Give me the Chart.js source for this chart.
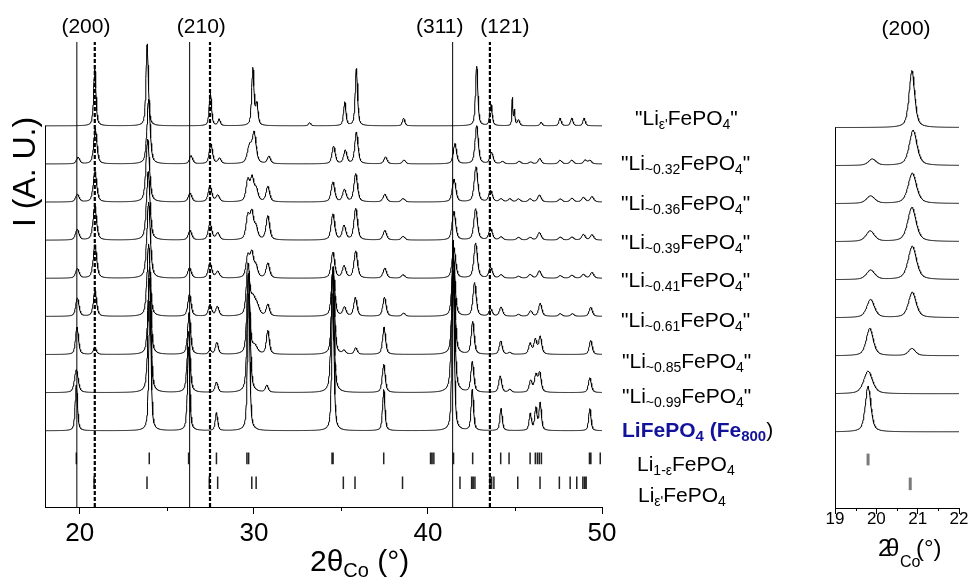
<!DOCTYPE html>
<html>
<head>
<meta charset="utf-8">
<script src="https://cdn.jsdelivr.net/npm/chart.js@4.4.1/dist/chart.umd.min.js"></script>
<style>
  html, body { margin: 0; padding: 0; background: #fff; }
  #wrap { position: relative; width: 974px; height: 583px; overflow: hidden; }
  #mainChart { position: absolute; left: 0; top: 0; }
  #zoomChart { position: absolute; left: 790px; top: 0; }
</style>
</head>
<body>
<div id="wrap">
  <canvas id="mainChart" width="790" height="583"></canvas>
  <canvas id="zoomChart" width="184" height="583"></canvas>
</div>
<script>
// ----- data -----
const sampleNames = [
  '"Li_{ε\'}FePO_{4}"',
  '"Li_{~0.32}FePO_{4}"',
  '"Li_{~0.36}FePO_{4}"',
  '"Li_{~0.39}FePO_{4}"',
  '"Li_{~0.41}FePO_{4}"',
  '"Li_{~0.61}FePO_{4}"',
  '"Li_{~0.85}FePO_{4}"',
  '"Li_{~0.99}FePO_{4}"',
  'LiFePO_{4} (Fe_{800}|)'
];
const phaseNames = ['Li_{1-ε}FePO_{4}', 'Li_{ε\'}FePO_{4}'];

// vertical stacking offset of each pattern (top to bottom) and peak width (deg)
const offsets = [10, 9, 8, 7, 6, 5, 4, 3, 2];
const fwhm = [0.16, 0.22, 0.24, 0.24, 0.24, 0.22, 0.2, 0.2, 0.16];

// peaks: [2theta, height, optional own width]
const peaksLiEps = [
  [20.86, 1.5], [23.87, 2.15], [27.5, 0.86], [28.0, 0.17], [29.94, 1.5], [30.17, 0.55],
  [33.2, 0.08], [35.22, 0.62], [35.89, 1.5], [38.6, 0.2], [42.8, 1.56], [43.62, 0.56],
  [44.85, 0.72, 0.07], [44.97, 0.4, 0.08], [45.2, 0.15], [46.5, 0.09], [47.59, 0.2],
  [48.26, 0.2], [48.97, 0.2]
];
const peaksLi032 = [
  [19.9, 0.17], [20.89, 0.93], [23.95, 1.7], [26.39, 0.21], [27.53, 0.52], [28.02, 0.14],
  [29.75, 0.45, 0.3], [30.02, 0.78, 0.26], [30.86, 0.19], [34.58, 0.46], [35.25, 0.35],
  [35.89, 0.83], [37.56, 0.18], [38.62, 0.1], [41.55, 0.53], [42.8, 1.0], [43.65, 0.3],
  [44.28, 0.06], [45.24, 0.07], [45.9, 0.05], [46.42, 0.14], [47.59, 0.1], [48.26, 0.1],
  [49.03, 0.1], [49.3, 0.09]
];
const peaksLi036 = [
  [19.86, 0.2], [20.87, 0.8], [23.9, 1.65], [26.33, 0.23], [27.48, 0.42], [27.92, 0.17],
  [29.65, 0.55], [29.9, 0.6], [30.14, 0.3], [30.8, 0.4], [34.54, 0.52], [35.2, 0.32],
  [35.85, 0.74], [37.52, 0.2], [38.57, 0.09], [41.5, 0.6], [42.76, 0.92], [43.6, 0.3],
  [44.2, 0.08], [44.7, 0.08], [45.2, 0.08], [45.87, 0.08], [46.4, 0.18], [47.6, 0.08],
  [48.27, 0.1], [48.93, 0.12], [49.42, 0.14]
];
const peaksLi039 = [
  [19.85, 0.28], [20.86, 0.9], [23.93, 1.8], [26.33, 0.25], [27.48, 0.43], [27.92, 0.18],
  [29.65, 0.6], [29.88, 0.68], [30.12, 0.3], [30.8, 0.63], [34.54, 0.68], [35.18, 0.37],
  [35.85, 0.83], [37.52, 0.25], [38.57, 0.1], [41.49, 0.75], [42.74, 0.82], [43.6, 0.3],
  [44.2, 0.08], [45.2, 0.07], [45.87, 0.07], [46.4, 0.2], [47.6, 0.08], [48.27, 0.08],
  [48.93, 0.15], [49.42, 0.14]
];
const peaksLi041 = [
  [19.86, 0.25], [20.87, 0.88], [23.95, 2.0], [26.3, 0.27], [27.48, 0.4], [27.92, 0.17],
  [29.65, 0.55], [29.88, 0.62], [30.12, 0.28], [30.8, 0.39], [34.54, 0.68], [35.18, 0.31],
  [35.85, 0.71], [37.52, 0.26], [38.57, 0.09], [41.49, 0.8], [42.74, 0.92], [43.6, 0.28],
  [44.2, 0.09], [45.2, 0.05], [45.87, 0.1], [46.4, 0.19], [47.6, 0.07], [48.27, 0.08],
  [48.93, 0.1], [49.42, 0.15]
];
const peaksLi061 = [
  [19.86, 0.48], [20.87, 0.67], [23.95, 1.9], [26.3, 0.58], [27.48, 0.3], [27.9, 0.25],
  [29.66, 1.3], [29.95, 0.45, 0.35], [30.2, 0.2, 0.3], [30.8, 0.3], [34.55, 1.3], [35.2, 0.23],
  [35.83, 0.49], [37.5, 0.5], [38.6, 0.08], [41.47, 1.5], [42.68, 0.88], [43.6, 0.19],
  [44.2, 0.24], [45.2, 0.05], [45.9, 0.14], [46.45, 0.34], [47.6, 0.07], [48.3, 0.07],
  [49.35, 0.24]
];
const peaksLi085 = [
  [19.84, 0.72], [20.86, 0.19], [24.0, 2.3], [26.28, 1.1], [27.48, 0.1], [27.87, 0.31],
  [29.68, 2.1], [30.05, 0.2, 0.35], [30.8, 0.62], [34.55, 2.2], [35.18, 0.09], [35.85, 0.17],
  [37.48, 0.72], [41.47, 2.6], [42.57, 0.86], [44.18, 0.35], [44.7, 0.05], [45.87, 0.28],
  [46.17, 0.38], [46.45, 0.46], [49.35, 0.37]
];
const peaksLi099 = [
  [19.8, 0.6, 0.25], [24.0, 3.0], [26.25, 1.6], [27.85, 0.27], [29.7, 3.1], [30.74, 0.18],
  [34.52, 3.2], [37.46, 0.74], [41.45, 4.0], [42.55, 0.8], [44.15, 0.43], [44.7, 0.08],
  [45.9, 0.3], [46.2, 0.44], [46.42, 0.5], [49.3, 0.39]
];
const peaksLiFePO4 = [
  [19.8, 1.2], [24.03, 3.4], [26.25, 2.2], [27.85, 0.47], [29.7, 3.6], [34.54, 3.6],
  [37.46, 1.08], [41.45, 4.2], [42.55, 1.08], [44.2, 0.58], [45.88, 0.44], [46.2, 0.58],
  [46.45, 0.72], [49.3, 0.58]
];
const patterns = [peaksLiEps, peaksLi032, peaksLi036, peaksLi039, peaksLi041,
  peaksLi061, peaksLi085, peaksLi099, peaksLiFePO4];

// reference reflection positions of the two phases
const ticksLi1mEps = [19.8, 23.99, 26.25, 27.85, 29.6, 29.7, 34.49, 34.55, 37.46, 40.15, 40.24,
  40.34, 41.47, 42.57, 44.18, 44.66, 45.87, 46.17, 46.29, 46.4, 46.52, 49.28, 49.36, 49.9];
const ticksLiEps = [20.82, 23.86, 27.44, 27.92, 29.88, 30.13, 35.14, 35.81, 38.54, 41.84, 42.51,
  42.6, 42.7, 43.56, 43.66, 43.79, 45.16, 46.44, 47.55, 48.17, 48.55, 48.9, 49.0, 49.09];
const tickRowA = [1.12, 1.43];
const tickRowB = [0.47, 0.8];

// guide lines and their (hkl) labels
const solidLines = [19.83, 26.31, 41.42];
const dashedLines = [20.86, 27.48, 43.56];
const hklLabels = ['(200)', '(210)', '(311)', '(121)'];
const hklAt = [20.35, 26.98, 40.68, 44.42];
const zoomHklLabel = '(200)';
const zoomHklAt = 20.72;

const xTicksMain = [20, 30, 40, 50];
const xMinorMain = [25, 35, 45];
const xTicksZoom = [19, 20, 21, 22];
const xMinorZoom = [19.5, 20.5, 21.5];

// ----- helpers -----
const FONT = '"Liberation Sans", Arial, sans-serif';
Chart.defaults.font.family = FONT;
Chart.defaults.color = '#000';

function profile(x, peaks, w) {
  let y = 0;
  for (const [p, h, own] of peaks) {
    const t = (x - p) / (own || w);
    const t2 = 4 * t * t;
    y += h * (0.55 / (1 + t2) + 0.45 * Math.exp(-Math.LN2 * t2));
  }
  return y;
}

function traceData(peaks, w, base, x0, x1, step) {
  const xs = [];
  for (let x = x0; x <= x1 + 1e-9; x += step) xs.push(+x.toFixed(3));
  peaks.forEach(p => { if (p[0] > x0 && p[0] < x1) xs.push(p[0]); });
  xs.sort((a, b) => a - b);
  return xs.map(x => ({ x, y: base + profile(x, peaks, w) }));
}

function vLines(values, y0, y1) {
  const out = [];
  values.forEach(v => { out.push({ x: v, y: y0 }, { x: v, y: y1 }, { x: v, y: null }); });
  return out;
}

function tokens(str) {
  const out = [];
  const re = /_\{([^}]*)\}/g;
  let i = 0, m;
  while ((m = re.exec(str))) {
    if (m.index > i) out.push({ t: str.slice(i, m.index), sub: false });
    out.push({ t: m[1], sub: true });
    i = re.lastIndex;
  }
  if (i < str.length) out.push({ t: str.slice(i), sub: false });
  return out;
}

function drawRich(ctx, str, x, y, o) {
  const [head, tail] = str.split('|');
  const runs = tokens(head).map(r => ({ ...r, bold: o.bold, color: o.color || '#000' }));
  if (tail) tokens(tail).forEach(r => runs.push({ ...r, bold: false, color: '#000' }));
  const fontFor = r => (r.bold ? 'bold ' : '') + (r.sub ? o.sub : o.size) + 'px ' + FONT;
  let w = 0;
  runs.forEach(r => { ctx.font = fontFor(r); r.w = ctx.measureText(r.t).width; w += r.w; });
  let cx = o.align === 'center' ? x - w / 2 : x;
  ctx.textAlign = 'left';
  ctx.textBaseline = 'alphabetic';
  runs.forEach(r => {
    ctx.font = fontFor(r);
    ctx.fillStyle = r.color;
    ctx.fillText(r.t, cx, r.sub ? y + o.drop : y);
    cx += r.w;
  });
}

function lineDatasets(x0, x1, step, top, tickWidth, tickColor, withGuides) {
  const sets = [];
  if (withGuides) {
    sets.push({ data: vLines(dashedLines, 0, top), borderColor: '#000', borderWidth: 2.2, borderDash: [4, 2] });
    sets.push({ data: vLines(solidLines, 0, top), borderColor: '#000', borderWidth: 1 });
  }
  sets.push({ data: vLines(ticksLi1mEps, tickRowA[0], tickRowA[1]), borderColor: tickColor, borderWidth: tickWidth });
  sets.push({ data: vLines(ticksLiEps, tickRowB[0], tickRowB[1]), borderColor: tickColor, borderWidth: tickWidth });
  patterns.forEach((pk, i) => {
    sets.push({ data: traceData(pk, fwhm[i], offsets[i], x0, x1, step), borderColor: '#000', borderWidth: 1 });
  });
  return sets;
}

function axisDecor(chart, minor, minorLen) {
  const { ctx, chartArea, scales } = chart;
  const ys = scales.y, xs = scales.x;
  ctx.save();
  ctx.strokeStyle = '#000';
  ctx.lineWidth = 1;
  ctx.beginPath();
  const lx = Math.round(chartArea.left) + 0.5;
  ctx.moveTo(lx, ys.getPixelForValue(0));
  ctx.lineTo(lx, ys.getPixelForValue(offsets[0]));
  minor.forEach(v => {
    const px = Math.round(xs.getPixelForValue(v)) + 0.5;
    ctx.moveTo(px, chartArea.bottom);
    ctx.lineTo(px, chartArea.bottom + minorLen);
  });
  ctx.stroke();
  ctx.restore();
}

// ----- main chart -----
const labelX = [635, 621, 621, 621, 621, 621, 622, 622, 622, 637, 638];
const labelBase = [125, 170, 210, 249, 287, 327, 368, 403, 437, 471, 502];

const mainDecor = {
  id: 'mainDecor',
  afterDraw(chart) {
    const { ctx, scales } = chart;
    axisDecor(chart, xMinorMain, 4);
    ctx.save();
    hklLabels.forEach((t, i) => {
      drawRich(ctx, t, scales.x.getPixelForValue(hklAt[i]), 33, { size: 21, align: 'center' });
    });
    sampleNames.forEach((t, i) => {
      const last = i === sampleNames.length - 1;
      drawRich(ctx, t, labelX[i], labelBase[i], {
        size: 21, sub: last ? 15 : 14, drop: 4, bold: last, color: last ? '#12129a' : '#000'
      });
    });
    phaseNames.forEach((t, i) => {
      drawRich(ctx, t, labelX[9 + i], labelBase[9 + i], { size: 21, sub: 14, drop: 4 });
    });
    drawRich(ctx, '2θ_{Co} (°)', 310, 571, { size: 30, sub: 20, drop: 6 });
    ctx.translate(35, 172);
    ctx.rotate(-Math.PI / 2);
    drawRich(ctx, 'I (A. U.)', 0, 0, { size: 32, align: 'center' });
    ctx.restore();
  }
};

new Chart(document.getElementById('mainChart'), {
  type: 'line',
  data: { datasets: lineDatasets(18, 50, 0.02, 12.2, 1.5, '#222', true) },
  options: {
    responsive: false,
    animation: false,
    events: [],
    layout: { padding: { left: 45, right: 188, top: 42, bottom: 0 } },
    elements: { point: { radius: 0 }, line: { tension: 0, fill: false } },
    plugins: { legend: { display: false }, tooltip: { enabled: false } },
    scales: {
      x: {
        type: 'linear', min: 18, max: 50,
        afterBuildTicks: s => { s.ticks = xTicksMain.map(v => ({ value: v })); },
        afterFit: s => { s.height = 76; },
        ticks: { font: { size: 26, lineHeight: 1 }, padding: 7, maxRotation: 0, autoSkip: false, color: '#000' },
        grid: { drawOnChartArea: false, drawTicks: true, tickLength: 7, color: '#000', lineWidth: 1 },
        border: { display: true, color: '#000', width: 1 }
      },
      y: {
        type: 'linear', min: 0, max: 12.2,
        afterFit: s => { s.width = 0; },
        ticks: { display: false },
        grid: { display: false },
        border: { display: false }
      }
    }
  },
  plugins: [mainDecor]
});

// ----- zoomed (200) panel -----
const zoomDecor = {
  id: 'zoomDecor',
  afterDraw(chart) {
    const { ctx, scales } = chart;
    axisDecor(chart, xMinorZoom, 3);
    ctx.save();
    drawRich(ctx, zoomHklLabel, scales.x.getPixelForValue(zoomHklAt), 35, { size: 21, align: 'center' });
    const x0 = 878 - 790;
    drawRich(ctx, '2', x0, 556, { size: 24 });
    drawRich(ctx, 'θ', x0 + 8, 556, { size: 24 });
    drawRich(ctx, 'Co', x0 + 22, 567, { size: 16 });
    drawRich(ctx, '(°)', x0 + 38, 556, { size: 24 });
    ctx.restore();
  }
};

new Chart(document.getElementById('zoomChart'), {
  type: 'line',
  data: { datasets: lineDatasets(19, 22, 0.01, 12.25, 3, '#7a7a7a', false) },
  options: {
    responsive: false,
    animation: false,
    events: [],
    layout: { padding: { left: 45, right: 15, top: 42, bottom: 0 } },
    elements: { point: { radius: 0 }, line: { tension: 0, fill: false } },
    plugins: { legend: { display: false }, tooltip: { enabled: false } },
    scales: {
      x: {
        type: 'linear', min: 19, max: 22,
        afterBuildTicks: s => { s.ticks = xTicksZoom.map(v => ({ value: v })); },
        afterFit: s => { s.height = 75; },
        ticks: { font: { size: 17, lineHeight: 1 }, padding: -3, maxRotation: 0, autoSkip: false, color: '#000' },
        grid: { drawOnChartArea: false, drawTicks: true, tickLength: 6, color: '#000', lineWidth: 1 },
        border: { display: true, color: '#000', width: 1 }
      },
      y: {
        type: 'linear', min: 0, max: 12.25,
        afterFit: s => { s.width = 0; },
        ticks: { display: false },
        grid: { display: false },
        border: { display: false }
      }
    }
  },
  plugins: [zoomDecor]
});
</script>
</body>
</html>
